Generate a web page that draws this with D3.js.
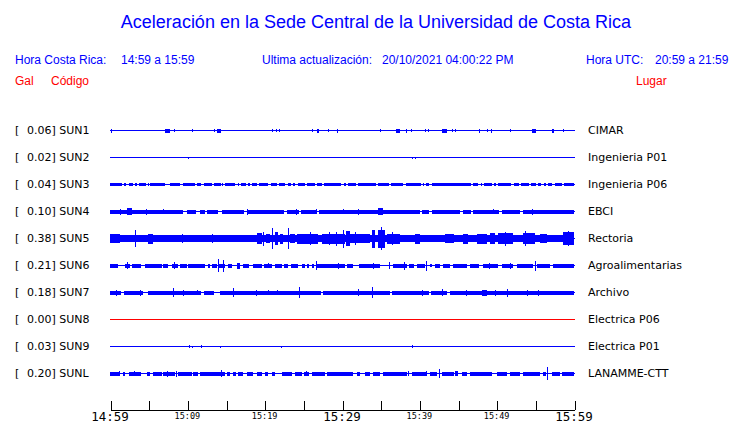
<!DOCTYPE html>
<html><head><meta charset="utf-8">
<script src="https://cdn.jsdelivr.net/npm/d3@7"></script>
<style>
body{margin:0;background:#fff;}
svg{display:block;}
</style></head>
<body><svg id="c" width="740" height="423"></svg>
<script>
// ---------- data ----------
const codes  = ["SUN1","SUN2","SUN3","SUN4","SUN5","SUN6","SUN7","SUN8","SUN9","SUNL"];
const peaks  = [0.06,0.02,0.04,0.10,0.38,0.21,0.18,0.00,0.03,0.20];
const places = ["CIMAR","Ingenieria P01","Ingenieria P06","EBCI","Rectoria","Agroalimentarias","Archivo","Electrica P06","Electrica P01","LANAMME-CTT"];
// continuous band level (Gal) for each station, interrupted by gaps
const bandLevel = [0,0,0.04,0.06,0.11,0,0.06,0,0,0];
const traceColor = ["blue","blue","blue","blue","blue","blue","blue","red","blue","blue"];
// minutes after 14:59
const tickMinutes = [0,5,10,15,20,25,30,35,40,45,50,55,60];
const labelMinutes = [0,10,20,30,40,50,60];
const tickLabels = ["14:59","15:09","15:19","15:29","15:39","15:49","15:59"];
const majorLabel = [true,false,false,true,false,false,true];

// gaps in continuous bands [t0,t1]
const sun3Gaps = [[1.5,1.8],[2.1,2.4],[2.9,3.2],[3.4,3.7],[4.6,4.9],[4.95,5.2],[7.2,7.8],[9.1,9.4],[11.0,11.3],[11.8,12.1],[13.1,13.4],[14.3,14.5],[14.6,14.9],[16.2,16.5],[16.6,16.9],[17.5,17.8],[18.1,18.4],[19.0,19.3],[20.5,20.8],[21.6,21.9],[22.7,23.0],[23.4,23.7],[24.0,24.3],[25.2,25.5],[26.5,26.8],[27.4,27.7],[29.9,30.2],[30.5,30.8],[31.8,32.1],[34.4,34.7],[36.1,36.4],[38.0,38.3],[40.2,40.45],[40.6,40.9],[41.3,41.6],[46.7,47.0],[47.7,48.0],[48.1,48.4],[49.4,49.7],[49.9,50.2],[51.9,52.2],[52.9,53.2],[54.2,54.5],[55.1,55.4],[55.8,56.1],[56.4,56.7],[57.2,57.5],[58.4,58.7]];
const sun4Gaps = [[9.5,9.9],[11.0,11.7],[12.3,12.6],[14.0,14.5],[17.4,17.9],[22.6,22.9],[24.4,24.7],[26.7,27.0],[40.0,40.3],[41.2,41.6],[45.2,45.6],[46.6,47.0],[50.3,50.7],[53.0,53.4]];
const sun7Gaps = [[1.4,1.8],[4.3,4.9],[11.7,12.1],[13.4,14.2],[27.2,27.6],[36.2,36.6],[41.2,41.5],[43.6,44.0]];

// bursts [t0,t1,amplitude Gal]
const sun1Bursts = [[0.1,0.25,0.05],[7.1,7.8,0.05],[8.3,8.45,0.03],[10.6,10.75,0.03],[13.4,13.55,0.04],[13.8,14.3,0.05],[20.9,21.05,0.03],[21.5,21.65,0.04],[21.9,22.05,0.04],[26.1,26.25,0.04],[26.8,27.1,0.05],[28.2,28.35,0.03],[29.3,29.45,0.06],[34.9,35.05,0.04],[37.0,37.5,0.05],[38.3,38.45,0.06],[38.9,39.05,0.03],[40.7,40.85,0.03],[41.1,41.25,0.03],[42.9,43.6,0.05],[44.2,44.35,0.04],[44.6,44.75,0.04],[47.7,47.85,0.06],[48.7,48.85,0.03],[49.3,49.45,0.06],[51.7,51.85,0.03],[54.6,55.1,0.05],[57.2,57.5,0.05],[58.6,58.75,0.04]];
const sun2Bursts = [[10.1,10.25,0.02],[39.0,39.15,0.02],[39.4,39.55,0.02]];
const sun3Bursts = [];
const sun4Bursts = [[1.3,1.45,0.08],[2.2,2.8,0.1],[4.7,4.85,0.08],[6.9,7.05,0.07],[17.7,17.85,0.08],[24.1,24.25,0.08],[26.6,26.75,0.07],[30.1,30.25,0.07],[32.1,32.25,0.08],[34.7,35.3,0.10],[49.5,49.65,0.07],[54.6,54.75,0.08]];
const sun5Bursts = [[0,1.3,0.14],[3.2,3.35,0.27],[4.9,5.6,0.16],[9.3,9.45,0.14],[13.2,13.35,0.13],[19.0,19.7,0.18],[19.8,19.95,0.22],[20.2,20.7,0.14],[20.9,21.05,0.34],[21.3,21.7,0.2],[22.0,22.4,0.15],[23.0,23.15,0.35],[23.3,24.0,0.13],[24.2,26.9,0.15],[25.9,26.05,0.21],[27.4,30.4,0.15],[28.3,28.45,0.2],[29.2,29.35,0.22],[30.1,30.25,0.3],[30.5,31.0,0.25],[31.0,33.6,0.14],[31.7,31.85,0.2],[33.9,34.3,0.3],[34.7,35.6,0.3],[35.1,35.25,0.38],[35.8,37.5,0.15],[36.5,36.65,0.2],[39.4,40.1,0.15],[43.3,44.4,0.14],[45.6,46.3,0.15],[47.5,48.8,0.16],[49.1,49.8,0.17],[50.2,52.1,0.17],[51.1,51.25,0.23],[53.4,55.0,0.17],[53.7,53.85,0.25],[55.6,56.5,0.13],[58.6,60,0.2],[59.2,59.35,0.24]];
const sun6Bursts = [[0,1.0,0.05],[1.9,2.6,0.05],[2.2,2.35,0.1],[2.8,3.9,0.05],[4.5,6.7,0.05],[6.9,7.5,0.05],[8.0,8.8,0.05],[8.3,8.45,0.1],[9.1,10.0,0.05],[10.1,12.3,0.05],[12.7,12.9,0.05],[13.2,13.8,0.05],[14.0,14.9,0.05],[14.0,14.15,0.21],[14.6,14.75,0.19],[15.3,15.8,0.05],[16.4,16.8,0.08],[17.2,18.0,0.05],[18.5,19.7,0.05],[19.9,20.9,0.05],[20.4,20.55,0.07],[21.3,22.2,0.05],[22.5,23.0,0.05],[23.4,24.3,0.05],[24.8,25.2,0.05],[25.5,25.7,0.05],[26.1,26.3,0.05],[26.6,26.75,0.14],[26.8,30.4,0.05],[29.5,29.65,0.09],[30.6,31.4,0.05],[32.2,34.9,0.05],[34.0,34.15,0.08],[36.1,36.25,0.1],[36.6,38.4,0.05],[38.0,38.15,0.12],[38.7,39.3,0.05],[39.7,40.7,0.05],[40.9,41.05,0.15],[41.4,41.6,0.04],[42.0,42.7,0.05],[43.1,44.0,0.05],[44.4,46.2,0.05],[46.6,47.8,0.05],[48.2,50.2,0.05],[49.0,49.15,0.09],[50.7,52.1,0.05],[51.7,51.85,0.08],[52.6,54.7,0.05],[55.0,55.15,0.16],[55.2,56.9,0.05],[57.3,60,0.05]];
const sun7Bursts = [[0.8,0.95,0.08],[3.9,4.05,0.08],[8.1,8.25,0.13],[9.4,9.55,0.09],[11.2,11.35,0.07],[15.9,16.05,0.14],[18.9,19.05,0.08],[20.4,20.55,0.07],[21.6,21.75,0.07],[24.5,24.65,0.18],[28.6,28.75,0.06],[32.1,32.25,0.1],[33.9,34.05,0.17],[36.5,36.65,0.06],[38.8,38.95,0.06],[40.3,40.45,0.08],[42.9,43.05,0.1],[45.0,45.15,0.06],[46.0,46.15,0.08],[48.1,48.7,0.08],[49.8,49.95,0.08],[51.3,51.45,0.12],[53.9,54.05,0.08],[55.3,55.45,0.09],[57.2,57.35,0.06],[59.6,59.75,0.06]];
const sun8Bursts = [];
const sun9Bursts = [[10.2,10.35,0.03],[10.6,10.75,0.02],[11.8,11.95,0.03],[14.2,14.35,0.02],[22.1,22.25,0.02],[39.05,39.2,0.03]];
const sunlBursts = [[0,1.3,0.05],[1.1,1.25,0.07],[1.7,1.9,0.05],[2.5,4.1,0.05],[3.1,3.25,0.07],[4.8,5.2,0.05],[5.6,6.7,0.05],[6.9,8.4,0.05],[7.4,7.55,0.08],[8.5,8.65,0.08],[8.8,10.6,0.05],[10.7,11.4,0.05],[11.6,14.0,0.05],[14.0,14.9,0.05],[14.4,14.55,0.1],[15.1,15.5,0.05],[15.9,16.3,0.05],[16.6,17.2,0.05],[17.7,18.5,0.05],[19.0,19.7,0.05],[20.0,20.4,0.05],[20.9,21.3,0.05],[22.2,23.5,0.05],[23.9,24.8,0.05],[25.1,25.7,0.05],[25.4,25.55,0.07],[26.1,27.8,0.05],[28.1,31.4,0.05],[31.9,32.3,0.05],[33.0,33.6,0.05],[34.0,34.9,0.05],[35.3,38.4,0.05],[38.5,38.65,0.07],[39.1,41.0,0.05],[40.9,41.05,0.07],[41.4,42.3,0.05],[42.5,42.65,0.14],[42.9,44.4,0.05],[44.6,45.0,0.07],[45.5,46.2,0.05],[46.6,49.5,0.05],[50.0,51.3,0.05],[51.7,53.0,0.05],[53.4,55.6,0.05],[56.0,56.4,0.05],[56.5,56.65,0.2],[57.2,58.2,0.05],[58.4,60,0.05]];

const gapsList = [[],[],sun3Gaps,sun4Gaps,[],[],sun7Gaps,[],[],[]];
const burstsList = [sun1Bursts,sun2Bursts,sun3Bursts,sun4Bursts,sun5Bursts,sun6Bursts,sun7Bursts,sun8Bursts,sun9Bursts,sunlBursts];

// ---------- drawing ----------
const BLUE = "#0000ff", RED = "#ff0000";
const svg = d3.select("#c");
const base = new Date(2021, 9, 20, 14, 59, 0).getTime();
const tm = m => new Date(base + m * 60000);

const x = d3.scaleTime().domain([tm(0), tm(60)]).range([110, 574]);
const yRow = d3.scaleLinear().domain([0, 9]).range([130, 373]);
const amp = d3.scaleLinear().domain([0, 0.38]).range([0, 11]);

// header
const SANS = "Liberation Sans, Arial, sans-serif";
svg.append("text").attr("x", 376).attr("y", 28).attr("text-anchor", "middle")
  .attr("font-family", SANS).attr("font-size", 18)
  .attr("fill", BLUE).text("Aceleración en la Sede Central de la Universidad de Costa Rica");
const hdr = (xx, t, color, y) => svg.append("text").attr("x", xx).attr("y", y)
  .attr("font-family", SANS).attr("font-size", 12).attr("fill", color).text(t);
hdr(15, "Hora Costa Rica:", BLUE, 64);
hdr(121, "14:59 a 15:59", BLUE, 64);
hdr(262, "Ultima actualización:", BLUE, 64);
hdr(382, "20/10/2021 04:00:22 PM", BLUE, 64);
hdr(586, "Hora UTC:", BLUE, 64);
hdr(655, "20:59 a 21:59", BLUE, 64);
hdr(15, "Gal", RED, 85);
hdr(51, "Código", RED, 85);
hdr(636, "Lugar", RED, 85);

// rows
codes.forEach((code, i) => {
  const cy = Math.round(yRow(i));
  const g = svg.append("g").attr("transform", `translate(0,${cy})`);
  const col = traceColor[i] === "red" ? RED : BLUE;

  // labels
  const lab = g.append("text").attr("y", 4).attr("font-family", "DejaVu Sans, sans-serif")
    .attr("font-size", 11).attr("fill", "#000");
  lab.append("tspan").attr("x", 15).text("[");
  lab.append("tspan").attr("x", 27).text(peaks[i].toFixed(2) + "] " + code);
  g.append("text").attr("x", 588).attr("y", 4).attr("font-family", "DejaVu Sans, sans-serif")
    .attr("font-size", 11).attr("fill", "#000").text(places[i]);

  // base line
  g.append("line").attr("x1", x(tm(0))).attr("x2", x(tm(60)) + 1).attr("y1", 0.5).attr("y2", 0.5)
    .attr("stroke", col).attr("stroke-width", 1).attr("shape-rendering", "crispEdges");

  // continuous band broken by gaps
  const segs = [];
  if (bandLevel[i] > 0) {
    let s = 0;
    gapsList[i].forEach(([a, b]) => { if (a > s) segs.push([s, a, bandLevel[i]]); s = b; });
    if (s < 60) segs.push([s, 60, bandLevel[i]]);
  }
  const all = segs.concat(burstsList[i]);
  const hOf = d => Math.round(2 * amp(d[2])) + 1;
  g.selectAll("rect.b").data(all).join("rect").attr("class", "b")
    .attr("x", d => Math.round(x(tm(d[0]))))
    .attr("width", d => Math.max(1, Math.round(x(tm(d[1])) - x(tm(d[0])))))
    .attr("y", d => -Math.floor((hOf(d) - 1) / 2))
    .attr("height", hOf)
    .attr("fill", col).attr("shape-rendering", "crispEdges");
});

// time axis
const axisY = 409;
const axis = d3.axisTop(x).tickValues(tickMinutes.map(tm)).tickSize(9).tickSizeOuter(0).tickFormat("");
const ga = svg.append("g").attr("transform", `translate(0.5,${axisY + 0.5})`).call(axis);
ga.select(".domain").attr("stroke", "#000").attr("shape-rendering", "crispEdges");
ga.selectAll(".tick line").attr("stroke", "#000").attr("shape-rendering", "crispEdges");

svg.selectAll("text.tl").data(labelMinutes).join("text").attr("class", "tl")
  .attr("x", d => x(tm(d)))
  .attr("y", (d, i) => majorLabel[i] ? 421 : 419)
  .attr("text-anchor", "middle")
  .attr("font-family", "DejaVu Sans Mono, monospace")
  .attr("font-size", (d, i) => majorLabel[i] ? 12.5 : 8.5)
  .attr("fill", "#000")
  .text((d, i) => tickLabels[i]);
</script></body></html>
